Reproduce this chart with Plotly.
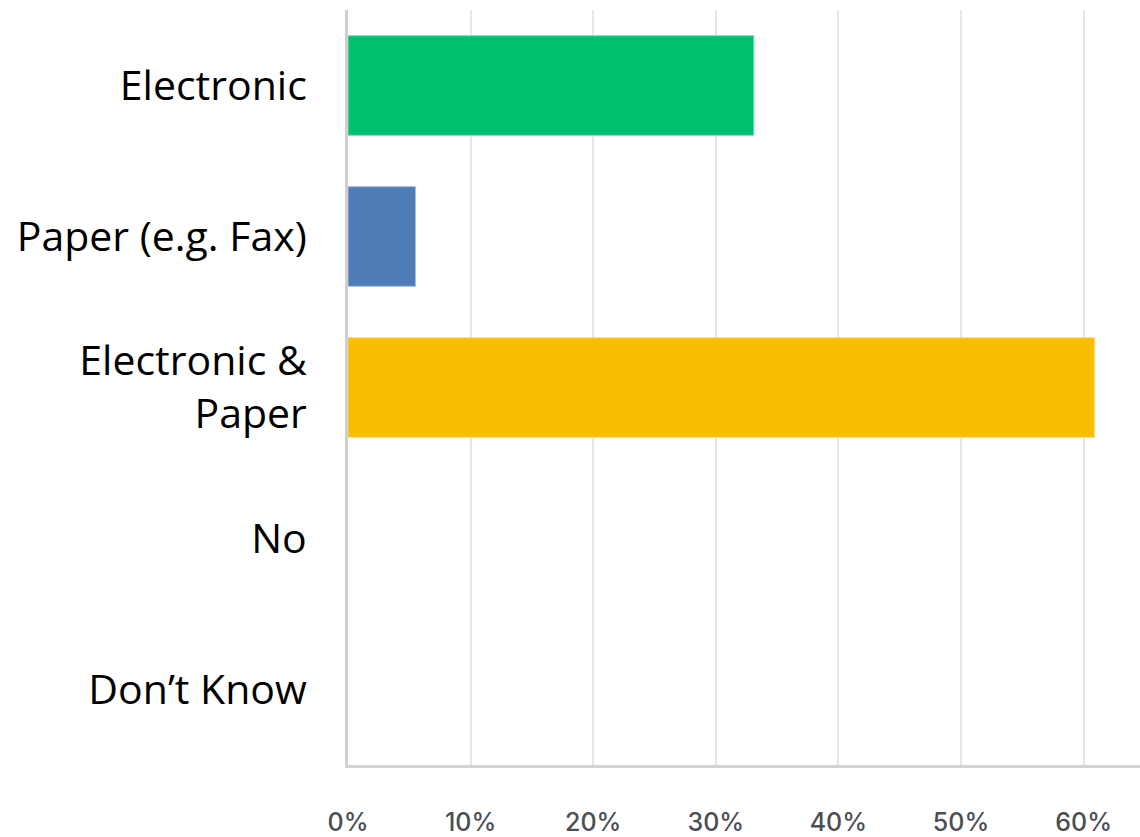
import plotly.graph_objects as go

categories = ["Electronic", "Paper (e.g. Fax)", "Electronic &<br>Paper", "No", "Don\u2019t Know"]
shares = [33.1, 5.5, 60.9, 0, 0]
bar_colors = ["#00BF6F", "#507CB6", "#F9BE00", "#00BF6F", "#00BF6F"]
edge_colors = ["#7FDDB5", "#A5BCDB", "#FCDC7F", "#7FDDB5", "#7FDDB5"]
edge_widths = [1, 1, 1, 0, 0]
tick_values = [0, 10, 20, 30, 40, 50, 60]
tick_labels = ["0%", "10%", "20%", "30%", "40%", "50%", "60%"]

fig = go.Figure(
    go.Bar(
        x=shares,
        y=categories,
        orientation="h",
        marker=dict(color=bar_colors, line=dict(color=edge_colors, width=edge_widths)),
        hoverinfo="x+y",
    )
)

fig.update_layout(
    width=1140,
    height=837,
    margin=dict(l=348, r=0, t=10, b=60),
    paper_bgcolor="white",
    plot_bgcolor="white",
    bargap=0.34,
    showlegend=False,
)

fig.update_xaxes(
    range=[0, 64.6],
    tickvals=tick_values,
    ticktext=tick_labels,
    tickfont=dict(family="Inter", size=25, color="#4b4f54", weight=500),
    ticklabelstandoff=33,
    showgrid=True,
    gridcolor="#e6e6e6",
    gridwidth=2,
    zeroline=False,
    showline=True,
    linecolor="#d3d3d3",
    linewidth=3,
    ticks="",
    fixedrange=True,
)

fig.update_yaxes(
    autorange="reversed",
    tickfont=dict(family="Open Sans", size=41, color="#000000"),
    ticklabelstandoff=30,
    showgrid=False,
    zeroline=False,
    showline=True,
    linecolor="#cfcfcf",
    linewidth=3,
    ticks="",
    fixedrange=True,
)

fig.write_html("out.html")
